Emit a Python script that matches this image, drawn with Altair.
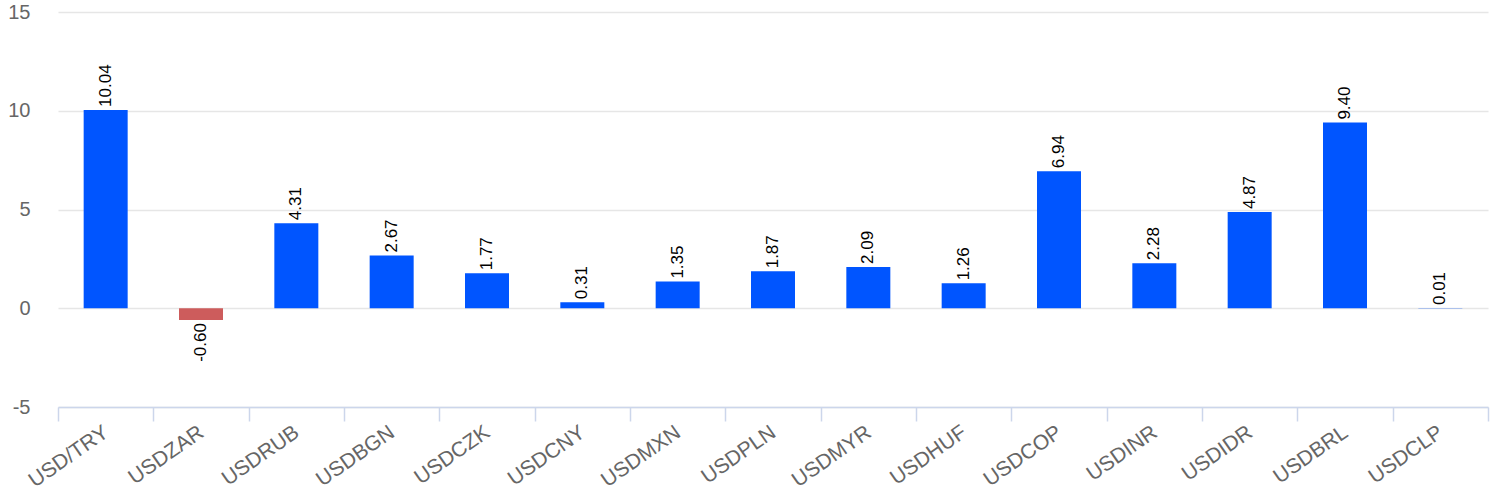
import altair as alt
import pandas as pd

pairs = ["USD/TRY", "USDZAR", "USDRUB", "USDBGN", "USDCZK", "USDCNY", "USDMXN",
         "USDPLN", "USDMYR", "USDHUF", "USDCOP", "USDINR", "USDIDR", "USDBRL", "USDCLP"]
values = [10.04, -0.60, 4.31, 2.67, 1.77, 0.31, 1.35, 1.87, 2.09, 1.26, 6.94, 2.28, 4.87, 9.40, 0.01]

df = pd.DataFrame({"pair": pairs, "value": values})
df["label"] = df["value"].map(lambda v: f"{v:.2f}")
df["sign"] = df["value"].map(lambda v: "neg" if v < 0 else "pos")

x = alt.X("pair:N", sort=pairs, title=None,
          scale=alt.Scale(paddingInner=0, paddingOuter=0),
          axis=alt.Axis(labelAngle=325, labelAlign="right", labelBaseline="top",
                        labelFontSize=21, labelColor="#666666", labelFont="Liberation Sans",
                        domainColor="#ccd6eb", domainWidth=1.5, tickColor="#ccd6eb",
                        tickWidth=1.5, tickSize=14, tickBand="extent", labelPadding=0,
                        labelOffset=-6, grid=False))
y = alt.Y("value:Q", title=None,
          scale=alt.Scale(domain=[-5, 15], nice=False, zero=True),
          axis=alt.Axis(values=[-5, 0, 5, 10, 15], labelFontSize=20, labelColor="#666666",
                        labelFont="Liberation Sans", ticks=False, domain=False,
                        labelExpr="'' + datum.value",
                        labelPadding=28, gridColor="#e6e6e6", gridWidth=1.5))

bars = alt.Chart(df).mark_bar(size=44).encode(
    x=x, y=y,
    color=alt.Color("sign:N", scale=alt.Scale(domain=["pos", "neg"], range=["#0055ff", "#cd5c5c"]),
                    legend=None),
)

pos_text = alt.Chart(df[df["value"] >= 0]).mark_text(
    angle=270, align="left", baseline="middle", dx=3, fontSize=17,
    font="Liberation Sans", color="#000000"
).encode(x=alt.X("pair:N", sort=pairs), y="value:Q", text="label:N")

neg_text = alt.Chart(df[df["value"] < 0]).mark_text(
    angle=270, align="right", baseline="middle", dx=-3, fontSize=17,
    font="Liberation Sans", color="#000000"
).encode(x=alt.X("pair:N", sort=pairs), y="value:Q", text="label:N")

chart = alt.layer(bars, pos_text, neg_text).properties(
    width=1430, height=395,
    autosize=alt.AutoSizeParams(type="none"),
    padding={"left": 58, "top": 12, "right": 3, "bottom": 95},
).configure_view(stroke=None)

chart.save("out.html", embed_options={"renderer": "svg", "actions": False})
